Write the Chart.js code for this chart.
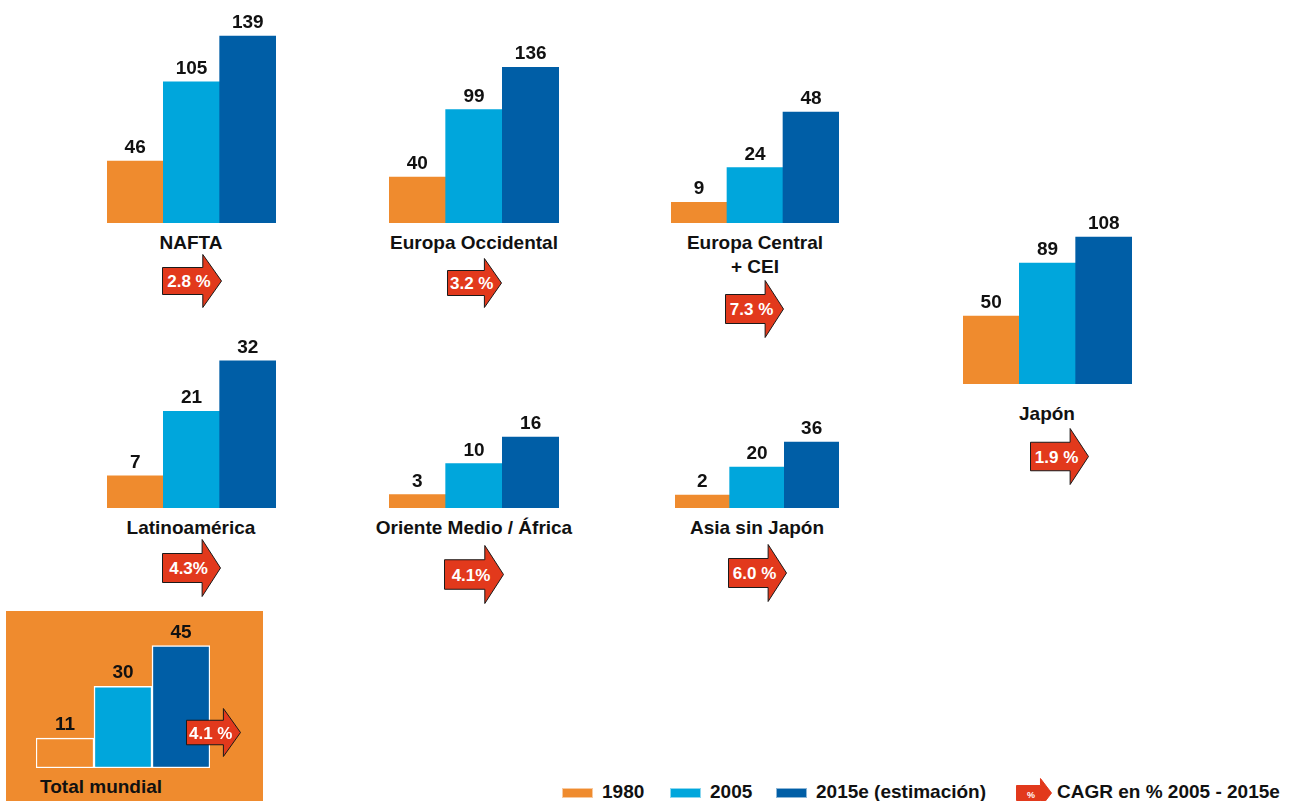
<!DOCTYPE html>
<html lang="es">
<head>
<meta charset="utf-8">
<script src="https://cdn.jsdelivr.net/npm/chart.js@4/dist/chart.umd.min.js"></script>
<style>
    body {
        margin: 0;
        width: 1295px;
        height: 801px;
        overflow: hidden;
        background: #fff;
        position: relative;
        font-family: "Liberation Sans", Arial, sans-serif;
        font-weight: bold;
        color: #111;
    }
    .box { position: absolute; }
    .lbl { position: absolute; font-size: 19px; line-height: 22px; white-space: nowrap; }
    .ctr { transform: translateX(-50%); }
    .arrowTxt { position: absolute; color: #fff; font-size: 17px; line-height: 20px; white-space: nowrap; transform: translate(-50%, -50%); }
    .swatch { position: absolute; width: 31px; height: 10px; box-shadow: inset 0 0 0 1px rgba(255,255,255,0.55); }
</style>
</head>
<body>
<div id="totalBg" class="box" style="left:6px; top:611px; width:257px; height:190px; background:#ef8b2e;"></div>
<script>
// Datos: índices por región (1980, 2005, 2015e) y CAGR 2005-2015e
var years = ['1980', '2005', '2015e (estimación)'];
var regions = ['NAFTA', 'Europa Occidental', 'Europa Central\n+ CEI', 'Japón',
    'Latinoamérica', 'Oriente Medio / África', 'Asia sin Japón', 'Total mundial'];
var v1980 = [46, 40, 9, 50, 7, 3, 2, 11];
var v2005 = [105, 99, 24, 89, 21, 10, 20, 30];
var v2015 = [139, 136, 48, 108, 32, 16, 36, 45];
var cagr = ['2.8 %', '3.2 %', '7.3 %', '1.9 %', '4.3%', '4.1%', '6.0 %', '4.1 %'];
var cagrLegend = 'CAGR en % 2005 - 2015e';

var colors = ['#ef8b2e', '#00a6dc', '#005ea6'];
var redArrow = '#e2391c';

// Posición de cada mini gráfico (px por unidad, línea base, etc.)
var panels = [
    { x: 107, w: 169, top: 0,   base: 223, ppu: 1.345, off: 0,    lx: 191,  ly: 243, arrow: [162, 254, 60, 54] },
    { x: 389, w: 170, top: 0,   base: 223, ppu: 1.145, off: 0,    lx: 474,  ly: 243, arrow: [447, 258, 55, 50] },
    { x: 671, w: 168, top: 0,   base: 223, ppu: 2.31,  off: 0,    lx: 755,  ly: 243, arrow: [725, 280, 59, 58] },
    { x: 963, w: 169, top: 180, base: 384, ppu: 1.36,  off: 0,    lx: 1047, ly: 414, arrow: [1030, 428, 59, 57] },
    { x: 107, w: 169, top: 330, base: 508, ppu: 4.6,   off: 0,    lx: 191,  ly: 528, arrow: [162, 539, 59, 58] },
    { x: 389, w: 170, top: 380, base: 508, ppu: 4.44,  off: 0,    lx: 474,  ly: 528, arrow: [444, 545, 60, 59] },
    { x: 675, w: 164, top: 400, base: 508, ppu: 1.56,  off: 6.25, lx: 757,  ly: 528, arrow: [728, 544, 59, 58] },
    { x: 36,  w: 174, top: 611, base: 768, ppu: 2.72,  off: 0,    lx: 40,   ly: 787, arrow: [186, 708, 55, 49], total: true }
];

/*
 * Etiquetas de valor encima de cada barra
 */
var valueLabels = {
    id: 'valueLabels',
    afterDatasetsDraw: function(chart) {
        var ctx = chart.ctx;
        ctx.save();
        ctx.font = 'bold 19px "Liberation Sans", Arial, sans-serif';
        ctx.fillStyle = '#111';
        ctx.textAlign = 'center';
        ctx.textBaseline = 'alphabetic';
        chart.getDatasetMeta(0).data.forEach(function(bar, i) {
            ctx.fillText(chart.data.datasets[0].data[i], bar.x, bar.y - 8);
        });
        ctx.restore();
    }
};

function arrowSvg(w, h, stroke) {
    var hx = w * 0.68, t = h * 0.25, b = h * 0.75;
    return '<svg width="' + w + '" height="' + h + '" style="display:block">' +
        '<polygon points="0.5,' + t + ' ' + hx + ',' + t + ' ' + hx + ',0.5 ' + (w - 0.5) + ',' + (h / 2) + ' ' +
        hx + ',' + (h - 0.5) + ' ' + hx + ',' + b + ' 0.5,' + b + '" fill="' + redArrow + '" stroke="' + stroke + '" stroke-width="1"/></svg>';
}

function addDiv(cls, style, html) {
    var d = document.createElement('div');
    d.className = cls;
    d.setAttribute('style', style);
    d.innerHTML = html;
    document.body.appendChild(d);
    return d;
}

function BuildPanel(i) {
    var p = panels[i];
    var h = p.base - p.top;
    var wrap = addDiv('box', 'left:' + p.x + 'px; top:' + p.top + 'px; width:' + p.w + 'px; height:' + h + 'px;', '');
    var canvas = document.createElement('canvas');
    wrap.appendChild(canvas);

    var bg = colors.slice();
    if (p.total) bg[0] = colors[0]; // 1980 se ve "hueco" sobre el fondo naranja
    new Chart(canvas.getContext('2d'), {
        type: 'bar',
        data: {
            labels: years,
            datasets: [{
                data: [v1980[i], v2005[i], v2015[i]],
                backgroundColor: bg,
                borderColor: '#fff',
                borderWidth: p.total ? 1.5 : 0,
                borderSkipped: false,
                base: -p.off,
                categoryPercentage: 1,
                barPercentage: 1
            }]
        },
        options: {
            responsive: true,
            maintainAspectRatio: false,
            animation: false,
            layout: { padding: 0 },
            plugins: {
                legend: { display: false },
                tooltip: { enabled: false }
            },
            scales: {
                x: { display: false },
                y: { display: false, min: -p.off, max: h / p.ppu - p.off }
            }
        },
        plugins: [valueLabels]
    });

    // nombre de la región
    var lines = regions[i].split('\n');
    lines.forEach(function(txt, k) {
        addDiv('lbl' + (p.total ? '' : ' ctr'),
            'left:' + p.lx + 'px; top:' + (p.ly - 11 + k * 24) + 'px;', txt);
    });

    // flecha CAGR
    var a = p.arrow;
    addDiv('box', 'left:' + a[0] + 'px; top:' + a[1] + 'px;', arrowSvg(a[2], a[3], '#1a1a1a'));
    addDiv('arrowTxt', 'left:' + (a[0] + a[2] * 0.45) + 'px; top:' + (a[1] + a[3] / 2 + 1) + 'px;', cagr[i]);
}

for (var i = 0; i < panels.length; i++) BuildPanel(i);

// Leyenda
var legendX = [562, 670, 776];
years.forEach(function(y, k) {
    addDiv('swatch', 'left:' + legendX[k] + 'px; top:788px; background:' + colors[k] + ';', '');
    addDiv('lbl', 'left:' + (legendX[k] + 40) + 'px; top:781px;', y);
});
addDiv('box', 'left:1016px; top:778px;', arrowSvg(36, 30, redArrow));
addDiv('box', 'left:1027px; top:789px; color:#fff; font-size:9px; line-height:12px;', '%');
addDiv('lbl', 'left:1057px; top:781px;', cagrLegend);
</script>
</body>
</html>
